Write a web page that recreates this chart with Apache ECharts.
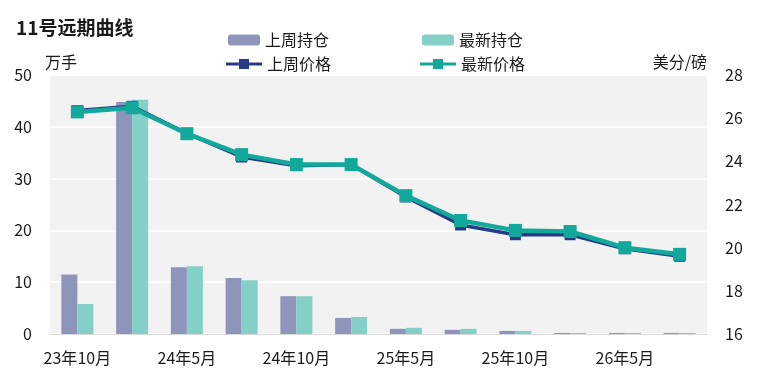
<!DOCTYPE html>
<html><head><meta charset="utf-8">
<script src="https://cdn.jsdelivr.net/npm/echarts@6/dist/echarts.min.js"></script>
<style>html,body{margin:0;padding:0;background:#fff}#c{width:762px;height:382px}</style>
</head><body><div id="c"></div>
<script>
const categories = ['23年10月','24年3月','24年5月','24年7月','24年10月','25年3月','25年5月','25年7月','25年10月','26年3月','26年5月','26年7月'];
const lastWeekOI = [11.5, 44.8, 12.9, 10.8, 7.3, 3.1, 1.0, 0.8, 0.6, 0.2, 0.2, 0.2];
const latestOI   = [5.8, 45.2, 13.1, 10.4, 7.3, 3.3, 1.2, 1.0, 0.6, 0.2, 0.2, 0.2];
const lastWeekPrice = [26.35, 26.55, 25.3, 24.2, 23.8, 23.85, 22.35, 21.05, 20.6, 20.6, 19.95, 19.6];
const latestPrice   = [26.29, 26.48, 25.28, 24.31, 23.85, 23.85, 22.41, 21.26, 20.8, 20.75, 20.0, 19.69];
const leftTicks = {min: 0, max: 50, interval: 10};
const rightTicks = {min: 16, max: 28, interval: 2};

const FONT = 'Noto Sans CJK SC';
const TXT = '#1a1a1a';
const lineIcon = 'path://M0,4.5H13V1H23V4.5H36V7.5H23V11H13V7.5H0Z';
const chart = echarts.init(document.getElementById('c'));
chart.setOption({
  animation: false,
  textStyle: {fontFamily: FONT},
  title: {text: '11号远期曲线', left: 11, top: 13, textStyle: {fontFamily: FONT, fontSize: 19, fontWeight: 'bold', color: TXT}},
  legend: [
    {data: ['上周持仓', '最新持仓'], left: 223, top: 27, itemWidth: 32, itemHeight: 11, itemGap: 93,
     textStyle: {fontFamily: FONT, fontSize: 16, color: TXT}},
    {data: [{name: '上周价格', icon: lineIcon}, {name: '最新价格', icon: lineIcon}], left: 221, top: 51, itemWidth: 36, itemHeight: 10, itemGap: 89,
     textStyle: {fontFamily: FONT, fontSize: 16, color: TXT}}
  ],
  grid: {left: 50, right: 55, top: 75, bottom: 48, show: true, backgroundColor: '#f2f2f2', borderWidth: 0},
  xAxis: {
    type: 'category', data: categories,
    axisLine: {lineStyle: {color: '#d9d9d9', width: 1}},
    axisTick: {show: false},
    axisLabel: {interval: 1, margin: 16, fontSize: 16, color: TXT, fontFamily: FONT}
  },
  yAxis: [
    {type: 'value', min: leftTicks.min, max: leftTicks.max, interval: leftTicks.interval,
     name: '万手', nameLocation: 'end', nameGap: 5,
     nameTextStyle: {fontFamily: FONT, fontSize: 16, color: TXT, align: 'left', padding: [0, 0, 0, -5]},
     axisLine: {show: false}, axisTick: {show: false},
     axisLabel: {margin: 18, fontSize: 16, color: TXT, fontFamily: FONT},
     splitLine: {lineStyle: {color: '#ffffff', width: 1.5}}},
    {type: 'value', min: rightTicks.min, max: rightTicks.max, interval: rightTicks.interval, position: 'right',
     name: '美分/磅', nameLocation: 'end', nameGap: 5,
     nameTextStyle: {fontFamily: FONT, fontSize: 16, color: TXT, align: 'right', padding: [0, 0, 0, 0]},
     axisLine: {show: false}, axisTick: {show: false},
     axisLabel: {margin: 18, fontSize: 16, color: TXT, fontFamily: FONT},
     splitLine: {show: false}}
  ],
  series: [
    {name: '上周持仓', type: 'bar', data: lastWeekOI, barWidth: 16, barGap: '0%', itemStyle: {color: '#8e95bb'}},
    {name: '最新持仓', type: 'bar', data: latestOI, barWidth: 16, barGap: '0%', itemStyle: {color: '#84cfc8'}},
    {name: '上周价格', type: 'line', yAxisIndex: 1, data: lastWeekPrice, symbol: 'rect', symbolSize: 11,
     lineStyle: {color: '#263a87', width: 3.5}, itemStyle: {color: '#263a87'}},
    {name: '最新价格', type: 'line', yAxisIndex: 1, data: latestPrice, symbol: 'rect', symbolSize: 13,
     lineStyle: {color: '#12a89b', width: 4.5}, itemStyle: {color: '#12a89b'}}
  ]
});
</script></body></html>
